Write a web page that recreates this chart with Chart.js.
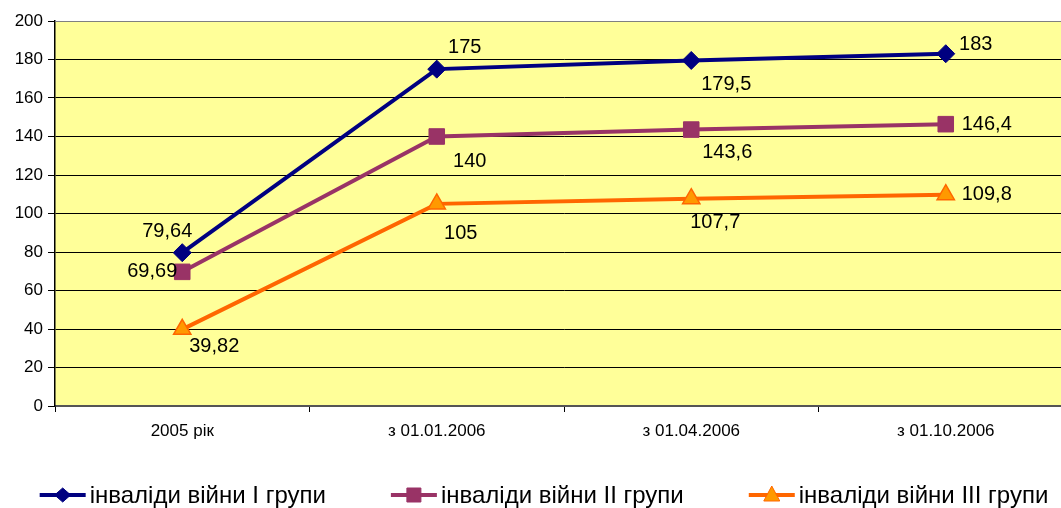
<!DOCTYPE html>
<html>
<head>
    <meta charset="utf-8" />
    <title>Інваліди війни</title>
    <script src="https://cdn.jsdelivr.net/npm/chart.js"></script>
    <style>
        html, body { margin: 0; padding: 0; background: #fff; overflow: hidden; }
        /* полотно трохи ширше за вікно: права частина області побудови обрізана, як в оригіналі */
        #wrap { width: 1073px; height: 508px; position: relative; }
    </style>
</head>
<body>
    <div id="wrap">
        <canvas id="myChart"></canvas>
    </div>

    <script>
        // дані з діаграми
        const categories = ['2005 рік', 'з 01.01.2006', 'з 01.04.2006', 'з 01.10.2006'];
        const seriesNames = ['інваліди війни І групи', 'інваліди війни ІІ групи', 'інваліди війни ІІІ групи'];
        const group1 = [79.64, 175, 179.5, 183];
        const group2 = [69.69, 140, 143.6, 146.4];
        const group3 = [39.82, 105, 107.7, 109.8];
        const yTicks = [0, 20, 40, 60, 80, 100, 120, 140, 160, 180, 200];

        const FONT = '"Liberation Sans", Arial, sans-serif';

        // зсув підписів відносно точки (як в оригіналі)
        const labelOffsets = [
            [[-15, -21], [28, -22], [35, 24], [30, -9]],
            [[-30, 0], [33, 25], [36, 23], [41, 0]],
            [[32, 17], [24, 30], [24, 24], [41, 0]]
        ];

        const plotBg = {
            id: 'plotBg',
            beforeDraw(chart) {
                const { ctx, chartArea: a } = chart;
                ctx.save();
                ctx.fillStyle = '#FFFF99';
                ctx.fillRect(a.left, a.top, a.right - a.left, a.bottom - a.top);
                ctx.restore();
            },
            afterDraw(chart) {
                const { ctx, chartArea: a } = chart;
                ctx.save();
                ctx.strokeStyle = '#808080';
                ctx.lineWidth = 1;
                ctx.beginPath();
                ctx.moveTo(a.left, a.top + 0.5);
                ctx.lineTo(a.right, a.top + 0.5);
                ctx.stroke();
                ctx.restore();
            }
        };

        const valueLabels = {
            id: 'valueLabels',
            afterDatasetsDraw(chart) {
                const ctx = chart.ctx;
                ctx.save();
                ctx.font = '20px ' + FONT;
                ctx.fillStyle = '#000';
                ctx.textAlign = 'center';
                ctx.textBaseline = 'middle';
                chart.data.datasets.forEach((ds, i) => {
                    chart.getDatasetMeta(i).data.forEach((pt, j) => {
                        const off = labelOffsets[i][j];
                        const txt = String(ds.data[j]).replace('.', ',');
                        ctx.fillText(txt, pt.x + off[0], pt.y + off[1]);
                    });
                });
                ctx.restore();
            }
        };

        function drawMarker(ctx, style, x, y, fill, stroke) {
            ctx.fillStyle = fill;
            ctx.strokeStyle = stroke;
            ctx.lineWidth = 1;
            ctx.beginPath();
            if (style === 'rectRot') {
                ctx.moveTo(x, y - 7); ctx.lineTo(x + 8, y); ctx.lineTo(x, y + 7); ctx.lineTo(x - 8, y);
            } else if (style === 'rect') {
                ctx.rect(x - 7, y - 7, 14, 14);
            } else {
                ctx.moveTo(x, y - 9); ctx.lineTo(x + 8, y + 6); ctx.lineTo(x - 8, y + 6);
            }
            ctx.closePath();
            ctx.fill();
            ctx.stroke();
        }

        const bottomLegend = {
            id: 'bottomLegend',
            afterDraw(chart) {
                const ctx = chart.ctx;
                const y = 495;
                const lineW = 46, gapText = 4, gapItem = 65;
                ctx.save();
                ctx.font = '24px ' + FONT;
                ctx.textBaseline = 'middle';
                ctx.textAlign = 'left';
                const items = chart.data.datasets.map(ds => ({ ds, tw: ctx.measureText(ds.label).width }));
                const total = items.reduce((s, it) => s + lineW + gapText + it.tw, 0) + gapItem * (items.length - 1);
                let x = 544 - total / 2;
                items.forEach(it => {
                    const ds = it.ds;
                    ctx.strokeStyle = ds.borderColor;
                    ctx.lineWidth = 4;
                    ctx.beginPath();
                    ctx.moveTo(x, y);
                    ctx.lineTo(x + lineW, y);
                    ctx.stroke();
                    drawMarker(ctx, ds.pointStyle, x + lineW / 2, y, ds.pointBackgroundColor, ds.pointBorderColor);
                    ctx.fillStyle = '#000';
                    ctx.fillText(ds.label, x + lineW + gapText, y + 1);
                    x += lineW + gapText + it.tw + gapItem;
                });
                ctx.restore();
            }
        };

        const ctx = document.getElementById('myChart').getContext('2d');
        new Chart(ctx, {
            type: 'line',
            data: {
                labels: categories,
                datasets: [{
                    label: seriesNames[0],
                    data: group1,
                    borderColor: '#000080',
                    borderWidth: 4,
                    pointStyle: 'rectRot',
                    pointRadius: 9,
                    pointBackgroundColor: '#000080',
                    pointBorderColor: '#000080',
                    pointBorderWidth: 1
                }, {
                    label: seriesNames[1],
                    data: group2,
                    borderColor: '#993366',
                    borderWidth: 4,
                    pointStyle: 'rect',
                    pointRadius: 11,
                    pointBackgroundColor: '#993366',
                    pointBorderColor: '#993366',
                    pointBorderWidth: 1
                }, {
                    label: seriesNames[2],
                    data: group3,
                    borderColor: '#FF6600',
                    borderWidth: 4,
                    pointStyle: 'triangle',
                    pointRadius: 10,
                    pointBackgroundColor: '#FF9900',
                    pointBorderColor: '#FF6600',
                    pointBorderWidth: 1.5
                }]
            },
            options: {
                responsive: true,
                maintainAspectRatio: false,
                animation: false,
                layout: { autoPadding: false, padding: { top: 21, right: 0, left: 0, bottom: 0 } },
                plugins: {
                    legend: { display: false },
                    tooltip: { enabled: false }
                },
                scales: {
                    x: {
                        offset: true,
                        grid: { offset: true, drawOnChartArea: false, tickLength: 6, color: '#000', lineWidth: 1 },
                        border: { color: '#555', width: 2 },
                        ticks: { color: '#000', font: { family: FONT, size: 17 }, padding: 9, maxRotation: 0 },
                        afterFit(s) { s.height = 102; s.paddingLeft = 0; s.paddingRight = 0; }
                    },
                    y: {
                        min: 0,
                        max: 200,
                        afterBuildTicks(s) { s.ticks = yTicks.map(v => ({ value: v })); },
                        grid: { color: '#000', lineWidth: 1, tickLength: 7 },
                        border: { color: '#000', width: 1.5 },
                        ticks: { color: '#000', font: { family: FONT, size: 17 }, padding: 5 },
                        afterFit(s) { s.width = 55; }
                    }
                }
            },
            plugins: [plotBg, valueLabels, bottomLegend]
        });
    </script>
</body>
</html>
